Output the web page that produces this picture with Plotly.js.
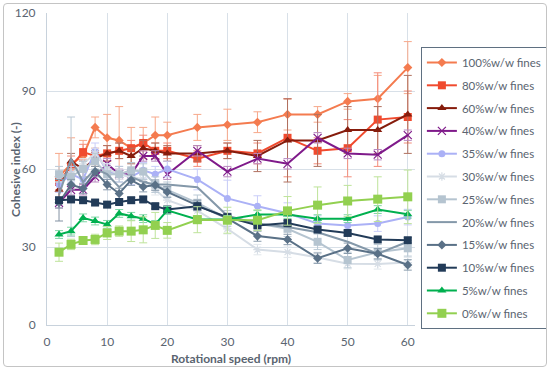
<!DOCTYPE html>
<html>
<head>
<meta charset="utf-8">
<script src="https://cdn.plot.ly/plotly-3.0.1.min.js"></script>
<style>
html,body{margin:0;padding:0;background:#fff;}
#wrap{position:relative;width:550px;height:370px;}
#chart{position:absolute;left:0;top:0;width:550px;height:370px;}
#frame{position:absolute;left:3px;top:3px;width:542px;height:362px;border:1px solid #C4C4C4;border-radius:4px;pointer-events:none;}
</style>
</head>
<body>
<div id="wrap"><div id="chart"></div><div id="frame"></div></div>
<script>
const speed = [2, 4, 6, 8, 10, 12, 14, 16, 18, 20, 25, 30, 35, 40, 45, 50, 55, 60];
const seriesNames = ['100%w/w fines','80%w/w fines','60%w/w fines','40%w/w fines','35%w/w fines','30%w/w fines','25%w/w fines','20%w/w fines','15%w/w fines','10%w/w fines','5%w/w fines','0%w/w fines'];

const fines100 = [57, 62, 65, 76, 72, 71, 68, 70, 73, 73, 76, 77, 78, 81, 81, 86, 87, 99];
const err100   = [9, 10, 6, 4, 9, 13, 8, 6, 7, 5, 5, 6, 4, 6, 3, 3, 9, 10];
const fines80  = [55, 61, 66.5, 65, 66, 67, 68, 70, 67, 67, 64, 67, 66, 72, 67, 68, 79, 80];
const err80    = [3, 4, 3, 3, 3, 3, 3, 3, 3, 3, 3, 3, 4, 15, 5, 11, 18, 10];
const fines60  = [52, 63, 60, 64, 66, 67, 65, 68, 67, 66, 66, 67, 65, 71, 71, 75, 75, 81];
const err60    = [3, 3, 3, 3, 3, 3, 3, 3, 3, 3, 3, 3, 6, 16, 10, 9, 9, 15];
const fines40  = [47, 52, 52, 57, 62, 58, 58, 65, 65, 58, 67, 59, 64, 62, 72, 66, 65.5, 73];
const err40    = [2, 2, 2, 2, 2, 2, 2, 2, 2, 2, 2, 2, 2, 2, 2, 2, 2, 2];
const fines35  = [54, 58, 56, 67, 59, 58, 57, 59.5, 58, 60, 56, 48.7, 45.7, 43, 39, 38.3, 39, 41.5];
const err35    = [3, 3, 3, 3, 3, 3, 3, 3, 3, 3, 4, 7, 4, 4, 3, 3, 3, 3];
const fines30  = [57, 58, 62, 66, 60, 58, 57, 56, 52, 48, 44, 37, 29, 28, 26, 23.6, 23.5, 24];
const err30    = [2, 2, 2, 2, 2, 2, 2, 2, 2, 2, 2, 2, 2, 2, 2, 2, 2, 2];
const fines25  = [58, 57, 60, 63, 58, 58, 59.5, 59, 54, 52, 47, 41, 39, 37, 32, 25, 28, 29.5];
const err25    = [3, 23, 3, 3, 3, 3, 3, 3, 3, 3, 3, 3, 3, 3, 3, 3, 3, 3];
const fines20  = [50, 64, 55, 60, 58, 53, 57, 55, 54, 54, 53, 42, 39, 37.7, 35.7, 32, 27.4, 32];
const fines15  = [47, 54, 52.5, 59, 54, 50.6, 55.7, 53.2, 53.8, 51.2, 46, 41, 34.2, 32.9, 25.7, 29.5, 27.4, 23.1];
const err15    = [2, 2, 2, 2, 2, 2, 2, 2, 2, 2, 2, 2, 2, 2, 2, 2, 2, 2];
const fines10  = [48, 48.3, 48, 47.1, 46.3, 47.3, 48, 48.3, 45.7, 44.4, 45.7, 41.5, 38.3, 39.2, 36.7, 35.4, 32.9, 32.6];
const err10    = [8, 1, 1, 1, 1, 1, 1, 1, 1, 1, 1, 1, 1, 1, 1, 1, 1, 1];
const fines5   = [34.8, 36.1, 41.2, 40, 38.7, 42.9, 41.8, 40.9, 38.7, 44.1, 40.6, 40.6, 42.5, 42.5, 40.9, 40.9, 44.4, 42.6];
const err5     = [1.5, 1.5, 1.5, 1.5, 1.5, 1.5, 1.5, 1.5, 1.5, 1.5, 1.5, 1.5, 1.5, 1.5, 1.5, 1.5, 1.5, 1.5];
const fines0   = [28, 31, 32.5, 32.9, 35.4, 36.1, 36.1, 36.6, 38.3, 36.4, 40.5, 40.3, 40.3, 43.9, 46.1, 47.7, 48.4, 49.3];
const err0     = [3.5, 2, 1.5, 2, 2.5, 2, 4, 5, 5, 3, 5, 5, 4, 5.5, 7, 6, 8.6, 10.3];

const styles = [
  {y: fines100, e: err100, line: '#F47B4F', err: '#F7A88A', sym: 'diamond', size: 7},
  {y: fines80,  e: err80,  line: '#F04A2E', err: '#F48C7A', sym: 'square', size: 8},
  {y: fines60,  e: err60,  line: '#861C0C', err: '#B0705F', sym: 'triangle-up', size: 8},
  {y: fines40,  e: err40,  line: '#7F1A8A', err: '#B98AC0', sym: 'x-thin-open', size: 8, mline: '#C070CC'},
  {y: fines35,  e: err35,  line: '#ABB1F6', err: '#C9CDF9', sym: 'circle', size: 7},
  {y: fines30,  e: err30,  line: '#D6DDE5', err: '#E2E7EC', sym: 'asterisk-open', size: 7, mline: '#C9D2DC'},
  {y: fines25,  e: err25,  line: '#B5C4D0', err: '#B9C8D4', sym: 'square', size: 8},
  {y: fines20,  e: null,   line: '#8498A9', err: '#8498A9', sym: 'circle', size: 0},
  {y: fines15,  e: err15,  line: '#5A7187', err: '#8A9CAD', sym: 'diamond', size: 7},
  {y: fines10,  e: err10,  line: '#223B58', err: '#8392A3', sym: 'square', size: 8},
  {y: fines5,   e: err5,   line: '#00B04F', err: '#7FD6A5', sym: 'triangle-up', size: 8},
  {y: fines0,   e: err0,   line: '#92D050', err: '#BEE39A', sym: 'square', size: 9}
];

const traces = styles.map((s, i) => {
  const t = {
    x: speed, y: s.y, name: seriesNames[i], type: 'scatter',
    mode: s.size ? 'lines+markers' : 'lines',
    legendgroup: 'g' + i,
    line: {color: s.line, width: 2},
    marker: {symbol: s.sym, size: s.size, color: s.line, line: {color: s.mline || s.line, width: s.mline ? 1.2 : 0}}
  };
  if (s.e) t.error_y = {type: 'data', array: s.e, visible: true, color: s.err, thickness: 1, width: 4};
  return t;
});

const txt = '#5A6470';
const layout = {
  width: 550, height: 370,
  margin: {l: 47, r: 135, t: 13, b: 45, autoexpand: false},
  paper_bgcolor: 'rgba(0,0,0,0)', plot_bgcolor: '#fff',
  font: {family: 'Lato, "Liberation Sans", sans-serif', size: 12, color: txt},
  showlegend: true,
  legend: {
    x: 1.016, y: 0.891, xanchor: 'left', yanchor: 'top',
    bgcolor: '#fff', bordercolor: '#5F7081', borderwidth: 1,
    font: {size: 11.5, color: txt}, tracegroupgap: 3.8, traceorder: 'grouped',
    itemwidth: 30
  },
  xaxis: {
    range: [0, 61.2], tickvals: [0, 10, 20, 30, 40, 50, 60],
    showgrid: true, gridcolor: '#D8E0E8', gridwidth: 1,
    showline: true, linecolor: '#C8D2DC', linewidth: 1, zeroline: false,
    ticks: '', ticklabelstandoff: 6, automargin: false,
    title: {text: '<b>Rotational speed (rpm)</b>', font: {size: 12, color: txt}, standoff: 6}
  },
  yaxis: {
    range: [0, 120], tickvals: [0, 30, 60, 90, 120],
    showgrid: true, gridcolor: '#D8E0E8', gridwidth: 1,
    showline: true, linecolor: '#C8D2DC', linewidth: 1, zeroline: false,
    ticks: '', ticklabelstandoff: 8, automargin: false
  },
  annotations: [{
    text: '<b>Cohesive index (-)</b>', textangle: -90, showarrow: false,
    xref: 'paper', yref: 'paper', x: -0.087, y: 0.5, xanchor: 'center', yanchor: 'middle',
    font: {size: 12, color: txt}
  }]
};

Plotly.newPlot('chart', traces, layout, {displayModeBar: false, staticPlot: true});
</script>
</body>
</html>
